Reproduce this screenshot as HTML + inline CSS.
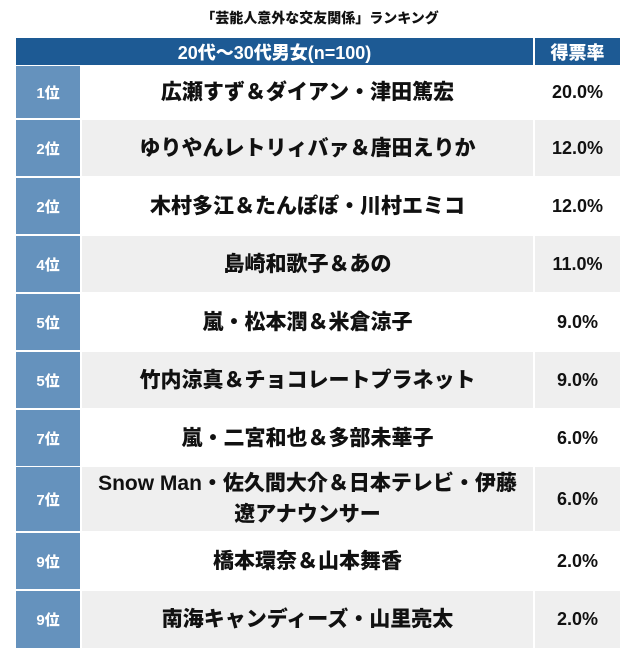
<!DOCTYPE html>
<html><head><meta charset="utf-8"><style>
body{margin:0;width:640px;height:668px;background:#fff;font-family:"Liberation Sans","Noto Sans CJK JP",sans-serif;font-weight:900;position:relative;overflow:hidden}
.t{position:absolute;top:8px;left:0;width:640px;text-align:center;font-size:14px;color:#111}
.hd{position:absolute;top:38px;height:27px;background:#1d5a94;color:#fff;font-size:18px;display:flex;align-items:center;justify-content:center}
.r{position:absolute;left:16px;width:604px;display:flex}
.rk{width:64px;background:#6592bd;color:#fff;font-size:15px;display:flex;align-items:center;justify-content:center}
.nm{width:451px;margin-left:2px;display:flex;align-items:center;justify-content:center;text-align:center;font-size:21px;color:#111;line-height:31px;white-space:nowrap}
.pc{width:85px;margin-left:2px;display:flex;align-items:center;justify-content:center;font-size:18px;color:#111}
.g .nm,.g .pc{background:#efefef}
</style></head><body>
<div class="t">「芸能人意外な交友関係」ランキング</div>
<div class="hd" style="left:16px;width:517px">20代〜30代男女(n=100)</div>
<div class="hd" style="left:535px;width:85px">得票率</div>
<div class="r" style="top:66px;height:52px"><div class="rk">1位</div><div class="nm">広瀬すず＆ダイアン・津田篤宏</div><div class="pc">20.0%</div></div>
<div class="r g" style="top:120px;height:56px"><div class="rk">2位</div><div class="nm">ゆりやんレトリィバァ＆唐田えりか</div><div class="pc">12.0%</div></div>
<div class="r" style="top:178px;height:56px"><div class="rk">2位</div><div class="nm">木村多江＆たんぽぽ・川村エミコ</div><div class="pc">12.0%</div></div>
<div class="r g" style="top:236px;height:56px"><div class="rk">4位</div><div class="nm">島崎和歌子＆あの</div><div class="pc">11.0%</div></div>
<div class="r" style="top:294px;height:56px"><div class="rk">5位</div><div class="nm">嵐・松本潤＆米倉涼子</div><div class="pc">9.0%</div></div>
<div class="r g" style="top:352px;height:56px"><div class="rk">5位</div><div class="nm">竹内涼真＆チョコレートプラネット</div><div class="pc">9.0%</div></div>
<div class="r" style="top:410px;height:56px"><div class="rk">7位</div><div class="nm">嵐・二宮和也＆多部未華子</div><div class="pc">6.0%</div></div>
<div class="r g" style="top:467px;height:64px"><div class="rk">7位</div><div class="nm">Snow Man・佐久間大介＆日本テレビ・伊藤<br>遼アナウンサー</div><div class="pc">6.0%</div></div>
<div class="r" style="top:533px;height:56px"><div class="rk">9位</div><div class="nm">橋本環奈＆山本舞香</div><div class="pc">2.0%</div></div>
<div class="r g" style="top:591px;height:57px"><div class="rk">9位</div><div class="nm">南海キャンディーズ・山里亮太</div><div class="pc">2.0%</div></div>
</body></html>
